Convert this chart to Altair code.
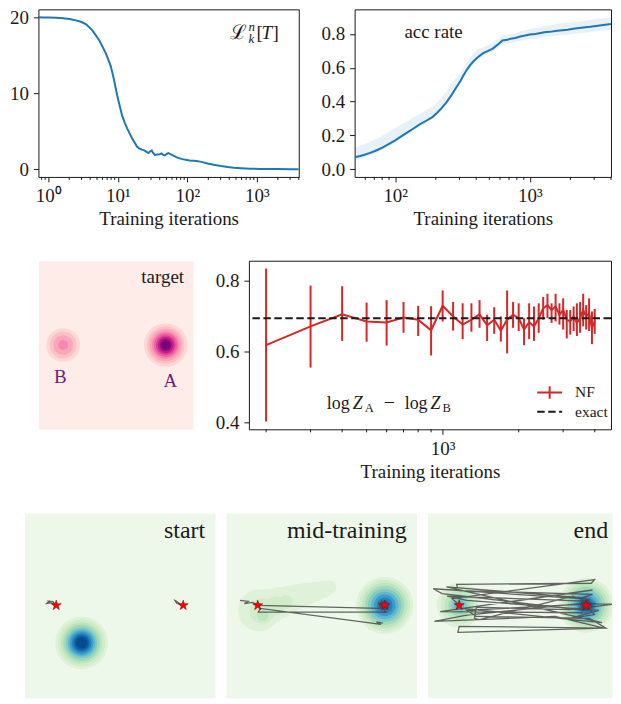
import altair as alt
import pandas as pd

SERIF = "Liberation Serif"
SCRIPT = "DejaVu Serif"
INK = "#1a1a1a"
RED = "#d62728"
BLUE = "#1f77b4"
TRAJ = "#4a4a4a"
PINK_BG = "#fdece8"
GREEN_BG = "#eef8ea"
LETTER = "#6b1f7d"
RDPU = ["#fcd7d3", "#fbc1c4", "#f9a6ba", "#f688b1", "#ee64a3", "#da3c95", "#bc1d88", "#99097e", "#770575"]
GNBU = ["#dff2d9", "#d0ecc9", "#bde5bf", "#a2d9b8", "#80cbc3", "#5eb6d0", "#3e9bc9", "#2480ba", "#0f64a7", "#084c90"]
STAR = "M0,-1L0.2245,-0.309L0.951,-0.309L0.363,0.118L0.588,0.809L0,0.382L-0.588,0.809L-0.363,0.118L-0.951,-0.309L-0.2245,-0.309Z"
NF_SYMBOL = "M-1,0L1,0M0,-0.5L0,0.5"
SUP = "'10' + ['⁰','¹','²','³','⁴'][round(log(datum.value) / LN10)]"

# ---------------- data: loss panel ----------------
loss_iter = [0.72, 0.85, 1.0, 1.3, 1.63, 2.0, 2.5, 3.0, 3.5, 4.3, 5.4, 6.7, 7.9, 8.8, 9.8,
             10.6, 11.5, 12.5, 13.6, 15.0, 16.0, 17.5, 18.8, 20.0, 22.0, 24.0, 26.0, 27.5, 29.0, 30.7,
             32.0, 34.0, 37.0, 40.0, 42.6, 45.0, 47.0, 50.0, 53.0, 56.0, 60.0, 66.0, 72.0, 82.0, 95.0,
             107.0, 125.0, 141.0, 165.0, 195.0, 240.0, 302.0, 380.0, 465.0, 600.0, 800.0, 1100.0, 1500.0,
             2000.0, 3000.0, 4000.0]
loss_val = [20.02, 20.01, 20.0, 19.96, 19.9, 19.8, 19.62, 19.4, 19.1, 18.3, 17.0, 15.3, 13.6, 11.8, 9.7,
            8.4, 7.1, 6.2, 5.4, 4.6, 4.1, 3.5, 3.0, 2.8, 2.6, 2.5, 2.3, 2.15, 2.35, 2.5,
            2.2, 1.9, 1.95, 2.0, 2.1, 1.9, 1.85, 2.0, 2.15, 2.05, 1.9, 1.72, 1.55, 1.38, 1.25,
            1.16, 1.12, 1.08, 0.95, 0.78, 0.6, 0.43, 0.3, 0.22, 0.15, 0.09, 0.05, 0.04,
            0.03, 0.02, 0.02]
loss_major = [1, 10, 100, 1000]
loss_minor = [0.8, 0.9, 2, 3, 4, 5, 6, 7, 8, 9, 20, 30, 40, 50, 60, 70, 80, 90,
              200, 300, 400, 500, 600, 700, 800, 900, 2000, 3000, 4000]
loss_yticks = [0, 10, 20]

# ---------------- data: acceptance rate panel ----------------
acc_iter = [50, 55, 60, 65, 70, 75, 81, 90, 100, 110, 120, 135, 150, 170, 190, 205, 220, 240, 260, 280,
            305, 320, 340, 360, 380, 410, 450, 490, 530, 580, 625, 680, 720, 780, 850, 920, 1000, 1100,
            1280, 1400, 1600, 1900, 2100, 2400, 2800, 3100, 3500, 4000]
acc_mean = [0.071, 0.079, 0.088, 0.097, 0.107, 0.117, 0.13, 0.15, 0.171, 0.193, 0.212, 0.238, 0.262, 0.287,
            0.31, 0.334, 0.36, 0.396, 0.435, 0.476, 0.522, 0.553, 0.588, 0.615, 0.637, 0.662, 0.686, 0.70,
            0.713, 0.738, 0.761, 0.765, 0.772, 0.776, 0.785, 0.79, 0.796, 0.799, 0.81, 0.812, 0.819, 0.825,
            0.83, 0.836, 0.842, 0.847, 0.852, 0.858]
acc_lo = [0.05, 0.06, 0.07, 0.08, 0.09, 0.10, 0.115, 0.135, 0.155, 0.178, 0.198, 0.225, 0.25, 0.275,
          0.298, 0.322, 0.345, 0.38, 0.42, 0.46, 0.505, 0.535, 0.57, 0.598, 0.62, 0.645, 0.668, 0.682,
          0.695, 0.718, 0.74, 0.742, 0.748, 0.752, 0.76, 0.765, 0.77, 0.772, 0.782, 0.784, 0.79, 0.795,
          0.80, 0.805, 0.81, 0.815, 0.82, 0.825]
acc_hi = [0.125, 0.14, 0.15, 0.165, 0.175, 0.185, 0.2, 0.222, 0.244, 0.265, 0.28, 0.305, 0.325, 0.35,
          0.372, 0.395, 0.425, 0.46, 0.5, 0.535, 0.565, 0.6, 0.63, 0.66, 0.685, 0.71, 0.72, 0.735,
          0.748, 0.77, 0.79, 0.795, 0.80, 0.805, 0.815, 0.82, 0.83, 0.835, 0.845, 0.85, 0.86, 0.865,
          0.87, 0.875, 0.882, 0.888, 0.893, 0.9]
acc_major = [100, 1000]
acc_minor = [60, 70, 80, 90, 200, 300, 400, 500, 600, 700, 800, 900, 2000, 3000, 4000]
acc_yticks = [0.0, 0.2, 0.4, 0.6, 0.8]

# ---------------- data: log Z difference panel ----------------
z_iter = [200, 300, 400, 500, 600, 700, 800, 900, 1000, 1100, 1200, 1300, 1400, 1500, 1600, 1700, 1800,
          1900, 2000, 2100, 2200, 2300, 2400, 2500, 2600, 2700, 2800, 2900, 3000, 3100, 3200, 3300, 3400,
          3500, 3600, 3700, 3800, 3900, 4000]
z_mean = [0.617, 0.670, 0.704, 0.684, 0.681, 0.695, 0.689, 0.659, 0.728, 0.698, 0.675, 0.689, 0.704, 0.673,
          0.689, 0.658, 0.689, 0.703, 0.693, 0.661, 0.682, 0.670, 0.693, 0.721, 0.730, 0.716, 0.726, 0.703,
          0.716, 0.689, 0.684, 0.698, 0.680, 0.693, 0.716, 0.698, 0.707, 0.666, 0.684]
z_lo = [0.402, 0.554, 0.629, 0.627, 0.616, 0.652, 0.643, 0.588, 0.684, 0.658, 0.634, 0.655, 0.666, 0.629,
        0.649, 0.627, 0.594, 0.666, 0.657, 0.617, 0.634, 0.629, 0.652, 0.689, 0.693, 0.680, 0.684, 0.675,
        0.661, 0.636, 0.647, 0.657, 0.643, 0.652, 0.670, 0.661, 0.657, 0.620, 0.649]
z_hi = [0.833, 0.785, 0.783, 0.737, 0.744, 0.739, 0.728, 0.727, 0.771, 0.739, 0.735, 0.735, 0.744, 0.703,
        0.724, 0.698, 0.771, 0.739, 0.735, 0.693, 0.735, 0.726, 0.735, 0.753, 0.762, 0.735, 0.762, 0.735,
        0.749, 0.716, 0.716, 0.726, 0.735, 0.739, 0.762, 0.730, 0.749, 0.712, 0.719]
z_exact = 0.693
z_major = [1000]
z_minor = [200, 300, 400, 500, 600, 700, 800, 900, 2000, 3000, 4000]
z_yticks = [0.4, 0.6, 0.8]

# ---------------- data: target density (contour levels as rings) ----------------
tgtA_center = (0.97, 0.0)
tgtA_radii = [0.423, 0.365, 0.317, 0.269, 0.231, 0.192, 0.154, 0.115, 0.077]
tgtA_levels = [1, 2, 3, 4, 5, 6, 7, 8, 9]
tgtB_center = (-1.02, 0.0)
tgtB_radii = [0.327, 0.26, 0.192, 0.096]
tgtB_levels = [1, 2, 3, 4]

# ---------------- data: flow densities and trajectories ----------------
modes_x = [-1.0, 1.0]
modes_y = [0.0, 0.0]

start_center = (-0.6, -0.61)
start_radii = [0.417, 0.371, 0.325, 0.286, 0.247, 0.216, 0.185, 0.155, 0.124, 0.093]
start_levels = [1, 2, 3, 4, 5, 6, 7, 8, 9, 10]
start_chain = [0, 0, 0, 0, 0, 0, 0, 0, 1, 1, 1, 1, 1, 1, 1]
start_x = [-1.0, -1.04, -1.13, -1.15, -1.09, -1.12, -1.05, -1.02, 1.0, 0.95, 0.9, 0.87, 0.89, 0.93, 0.97]
start_y = [0.0, 0.03, 0.05, 0.03, 0.04, 0.07, 0.06, 0.02, 0.0, 0.02, 0.03, 0.08, 0.07, 0.04, -0.01]

mid_right_center = (1.0, 0.0)
mid_right_radii = [0.448, 0.402, 0.355, 0.309, 0.263, 0.216, 0.170, 0.124, 0.077]
mid_right_levels = [1, 2, 3, 4, 5, 6, 7, 8, 9]
mid_left_x = [-0.98, -0.82, -0.66, -0.52, -0.38, -0.24, -0.1, 0.03, 0.13, -0.93, -0.72, -0.56, -0.92]
mid_left_y = [-0.08, -0.02, 0.04, 0.09, 0.14, 0.18, 0.22, 0.26, 0.29, -0.09, -0.01, 0.05, -0.16]
mid_left_r = [0.33, 0.28, 0.25, 0.22, 0.2, 0.18, 0.16, 0.14, 0.11, 0.2, 0.15, 0.11, 0.09]
mid_left_levels = [1, 1, 1, 1, 1, 1, 1, 1, 1, 2, 2, 2, 3]
mid_x = [-1.28, -1.15, -1.21, -1.08, -0.99, 0.91, 0.95, 0.99, 0.93, 0.90, 1.02, -0.99, -0.96, 0.94, 0.87, 0.97]
mid_y = [0.08, 0.065, 0.03, 0.05, 0.0, -0.05, 0.07, 0.02, -0.04, 0.05, -0.11, -0.11, -0.05, -0.31, -0.27, -0.29]

end_left_center = (-1.0, 0.0)
end_left_radii = [0.355, 0.294, 0.232, 0.17, 0.124, 0.077]
end_left_levels = [1, 2, 3, 4, 5, 6]
end_right_center = (1.0, 0.0)
end_right_radii = [0.433, 0.386, 0.34, 0.294, 0.247, 0.2, 0.155, 0.124, 0.093, 0.062]
end_right_levels = [1, 2, 3, 4, 5, 6, 7, 8, 9, 10]
end_x = [-1.0, -1.11, 1.13, 1.08, -1.04, -1.02, 1.10, 0.90, -1.41, -1.27, 0.97, 1.13, -0.88, -0.73, 1.05,
         1.31, -1.0, -1.02, 1.28, 0.51, -1.39, -0.88, 0.90, 1.44, 0.74, -0.73, -0.76, -0.68, 0.79, 1.0,
         -1.19, -0.88, 1.2, 0.74, 1.13, 1.02, 0.93, 1.05, 0.92, 1.08, 0.98,
         -1.2, 1.25, -0.95, 1.1, -1.3, 0.95]
end_y = [0.0, 0.11, 0.42, 0.36, 0.34, 0.24, 0.18, 0.11, 0.27, 0.19, -0.08, 0.03, -0.08, -0.18, -0.21,
         -0.37, -0.34, -0.44, -0.37, -0.18, -0.26, -0.16, 0.03, 0.02, -0.07, -0.03, -0.21, -0.23, 0.15, 0.07,
         0.15, 0.08, -0.08, -0.21, -0.15, -0.02, 0.05, 0.1, -0.06, -0.04, 0.12,
         0.3, -0.28, -0.05, 0.25, -0.1, -0.12]

# annotation anchors (data coordinates)
LOSS_ANCHOR = (404, 17.1)
ACC_ANCHOR = (117, 0.777)
LOGZ_ANCHOR = (348, 0.438)
TITLE_POS = (1.345, 1.205)

# ---------------- layout ----------------
FS = 19
W_A, W_B, H1 = 261, 257, 168
W_T, W_D, H2 = 155, 363, 169
W_P, W_P3, H3 = 191, 185, 185
GAP_TOP, GAP_BOT = 56, 11
LEAD_TOP, LEAD_BOT = 1, 31.5
PPU_T = W_T / 3.0
PPU_B = W_P / 3.0


def text_mark(x, y, s, xs, ys, xa, ya, **kw):
    props = dict(font=SERIF, fontSize=FS, color=INK, align="left", baseline="alphabetic")
    props.update(kw)
    df = pd.DataFrame({"x": [x], "y": [y], "t": [s]})
    return alt.Chart(df).mark_text(**props).encode(
        x=alt.X("x:Q", scale=xs, axis=xa),
        y=alt.Y("y:Q", scale=ys, axis=ya),
        text="t:N",
    )


def x_axis(vals):
    return alt.Axis(values=vals, labelExpr=SUP, title="Training iterations", tickSize=5,
                    labelPadding=5, titlePadding=4, domain=False, grid=False,
                    labelFlush=False, labelOverlap=False)


def y_axis(vals, fmt):
    return alt.Axis(values=vals, format=fmt, title=None, tickSize=5, labelPadding=5,
                    domain=False, grid=False, labelFlush=False, labelOverlap=False)


def minor_ticks(vals, xs, xa, h):
    return alt.Chart(pd.DataFrame({"x": vals})).mark_rule(color=INK, strokeWidth=1).encode(
        x=alt.X("x:Q", scale=xs, axis=xa), y=alt.value(h), y2=alt.value(h + 3))


def spacer(w, h):
    return alt.Chart(pd.DataFrame({"x": [0]})).mark_point(opacity=0, size=0).encode(
        x=alt.value(0), y=alt.value(0)
    ).properties(width=w, height=h, view=alt.ViewBackground(stroke="transparent"))


def ring_df(blobs):
    rows = []
    for (cx, cy), radii, levels in blobs:
        for r, l in zip(radii, levels):
            rows.append({"x": cx, "y": cy, "r": r, "lvl": l})
    return pd.DataFrame(rows)


# ---------------- panel A: loss ----------------
xsA = alt.Scale(type="log", domain=[0.72, 4000], nice=False)
ysA = alt.Scale(domain=[-1.0, 21.07], nice=False, zero=False)
xaA = x_axis(loss_major)
yaA = y_axis(loss_yticks, "d")
lineA = alt.Chart(pd.DataFrame({"x": loss_iter, "y": loss_val})).mark_line(
    color=BLUE, strokeWidth=2, clip=True).encode(
    x=alt.X("x:Q", scale=xsA, axis=xaA),
    y=alt.Y("y:Q", scale=ysA, axis=yaA))
ax, ay = LOSS_ANCHOR
annA = [
    text_mark(ax, ay, "ℒ", xsA, ysA, xaA, yaA, font=SCRIPT, fontSize=20),
    text_mark(ax, ay, "n", xsA, ysA, xaA, yaA, fontSize=13, fontStyle="italic", dx=19, dy=-9),
    text_mark(ax, ay, "k", xsA, ysA, xaA, yaA, fontSize=13, fontStyle="italic", dx=19, dy=4),
    text_mark(ax, ay, "[", xsA, ysA, xaA, yaA, dx=27),
    text_mark(ax, ay, "T", xsA, ysA, xaA, yaA, fontStyle="italic", dx=32),
    text_mark(ax, ay, "]", xsA, ysA, xaA, yaA, dx=43),
]
chartA = alt.layer(lineA, minor_ticks(loss_minor, xsA, xaA, H1), *annA).properties(width=W_A, height=H1)

# ---------------- panel B: acceptance rate ----------------
xsB = alt.Scale(type="log", domain=[50, 4000], nice=False)
ysB = alt.Scale(domain=[-0.045, 0.945], nice=False, zero=False)
xaB = x_axis(acc_major)
yaB = y_axis(acc_yticks, ".1f")
dfB = pd.DataFrame({"x": acc_iter, "y": acc_mean, "lo": acc_lo, "hi": acc_hi})
bandB = alt.Chart(dfB).mark_area(color=BLUE, opacity=0.1, clip=True).encode(
    x=alt.X("x:Q", scale=xsB, axis=xaB),
    y=alt.Y("lo:Q", scale=ysB, axis=yaB),
    y2="hi:Q")
lineB = alt.Chart(dfB).mark_line(color=BLUE, strokeWidth=2, clip=True).encode(
    x=alt.X("x:Q", scale=xsB, axis=xaB),
    y=alt.Y("y:Q", scale=ysB, axis=yaB))
bx, by = ACC_ANCHOR
chartB = alt.layer(bandB, lineB, minor_ticks(acc_minor, xsB, xaB, H1),
                   text_mark(bx, by, "acc rate", xsB, ysB, xaB, yaB)).properties(width=W_B, height=H1)

# ---------------- target panel ----------------
xsT = alt.Scale(domain=[-1.5, 1.5], nice=False, zero=False)
ysT = alt.Scale(domain=[-1.5, 1.5], nice=False, zero=False)
ringsT = ring_df([(tgtA_center, tgtA_radii, tgtA_levels), (tgtB_center, tgtB_radii, tgtB_levels)])
circT = alt.Chart(ringsT).mark_circle(opacity=1).encode(
    x=alt.X("x:Q", scale=xsT, axis=None),
    y=alt.Y("y:Q", scale=ysT, axis=None),
    size=alt.Size("r:Q", scale=alt.Scale(type="pow", exponent=2, domain=[0, 1],
                                         range=[0, 4 * PPU_T ** 2]), legend=None),
    color=alt.Color("lvl:O", scale=alt.Scale(domain=list(range(1, 10)), range=RDPU), legend=None),
    order=alt.Order("lvl:Q"))
chartT = alt.layer(
    circT,
    text_mark(1.327, 1.218, "target", xsT, ysT, None, None, align="right", baseline="middle"),
    text_mark(-1.077, -0.563, "B", xsT, ysT, None, None, align="center", baseline="middle", color=LETTER),
    text_mark(1.06, -0.634, "A", xsT, ysT, None, None, align="center", baseline="middle", color=LETTER),
).properties(width=W_T, height=H2, view=alt.ViewBackground(fill=PINK_BG, stroke="transparent"))

# ---------------- panel D: log Z difference ----------------
xsD = alt.Scale(type="log", domain=[171, 4640], nice=False)
ysD = alt.Scale(domain=[0.38, 0.855], nice=False, zero=False)
xaD = x_axis(z_major)
yaD = y_axis(z_yticks, ".1f")
dfD = pd.DataFrame({"x": z_iter, "y": z_mean, "lo": z_lo, "hi": z_hi, "nf": ["NF"] * len(z_iter)})
errD = alt.Chart(dfD).mark_rule(color=RED, strokeWidth=2).encode(
    x=alt.X("x:Q", scale=xsD, axis=xaD),
    y=alt.Y("lo:Q", scale=ysD, axis=yaD),
    y2="hi:Q")
lineD = alt.Chart(dfD).mark_line(strokeWidth=2).encode(
    x=alt.X("x:Q", scale=xsD, axis=xaD),
    y=alt.Y("y:Q", scale=ysD, axis=yaD),
    color=alt.Color("nf:N", scale=alt.Scale(domain=["NF"], range=[RED]),
                    legend=alt.Legend(title=None, orient="none", legendX=288, legendY=118.5,
                                      symbolType=NF_SYMBOL, symbolSize=625, symbolStrokeWidth=2,
                                      symbolFillColor="transparent", labelFont=SERIF,
                                      labelFontSize=15.5, labelColor=INK, labelOffset=12, padding=0)))
exactD = alt.Chart(pd.DataFrame({"y": [z_exact], "ex": ["exact"]})).mark_rule(
    color=INK, strokeWidth=2).encode(
    y=alt.Y("y:Q", scale=ysD, axis=yaD),
    strokeDash=alt.StrokeDash("ex:N", scale=alt.Scale(domain=["exact"], range=[[7.5, 3.5]]),
                              legend=alt.Legend(title=None, orient="none", legendX=288, legendY=138,
                                                symbolType="stroke", symbolSize=625, symbolStrokeWidth=2,
                                                symbolStrokeColor=INK, labelFont=SERIF,
                                                labelFontSize=15.5, labelColor=INK, labelOffset=12,
                                                padding=0)))
lx, ly = LOGZ_ANCHOR
annD = [
    text_mark(lx, ly, "log", xsD, ysD, xaD, yaD, fontSize=18),
    text_mark(lx, ly, "Z", xsD, ysD, xaD, yaD, dx=26, fontSize=18, fontStyle="italic"),
    text_mark(lx, ly, "A", xsD, ysD, xaD, yaD, dx=38, dy=3, fontSize=12.5),
    text_mark(lx, ly, "−", xsD, ysD, xaD, yaD, dx=57, fontSize=20),
    text_mark(lx, ly, "log", xsD, ysD, xaD, yaD, dx=78, fontSize=18),
    text_mark(lx, ly, "Z", xsD, ysD, xaD, yaD, dx=104, fontSize=18, fontStyle="italic"),
    text_mark(lx, ly, "B", xsD, ysD, xaD, yaD, dx=116, dy=3, fontSize=12.5),
]
chartD = alt.layer(errD, lineD, exactD, minor_ticks(z_minor, xsD, xaD, H2), *annD).properties(
    width=W_D, height=H2)


# ---------------- bottom panels ----------------
def bottom_panel(rings, traj, title, width):
    xmax = -1.5 + width / PPU_B
    xs = alt.Scale(domain=[-1.5, xmax], nice=False, zero=False)
    ys = alt.Scale(domain=[-1.5, 1.5], nice=False, zero=False)
    circ = alt.Chart(rings).mark_circle(opacity=1, clip=True).encode(
        x=alt.X("x:Q", scale=xs, axis=None),
        y=alt.Y("y:Q", scale=ys, axis=None),
        size=alt.Size("r:Q", scale=alt.Scale(type="pow", exponent=2, domain=[0, 1],
                                             range=[0, 4 * PPU_B ** 2]), legend=None),
        color=alt.Color("lvl:O", scale=alt.Scale(domain=list(range(1, 11)), range=GNBU), legend=None),
        order=alt.Order("lvl:Q"))
    path = alt.Chart(traj).mark_line(color=TRAJ, strokeWidth=1.3, opacity=0.85, clip=True).encode(
        x=alt.X("x:Q", scale=xs, axis=None),
        y=alt.Y("y:Q", scale=ys, axis=None),
        order=alt.Order("i:Q"),
        detail="c:N")
    stars = alt.Chart(pd.DataFrame({"x": modes_x, "y": modes_y})).mark_point(
        shape=STAR, filled=True, fill="#ff0000", stroke="#a00000", strokeWidth=0.6,
        size=110, opacity=1).encode(
        x=alt.X("x:Q", scale=xs, axis=None),
        y=alt.Y("y:Q", scale=ys, axis=None))
    ttl = text_mark(TITLE_POS[0], TITLE_POS[1], title, xs, ys, None, None, fontSize=24, align="right",
                    baseline="middle")
    return alt.layer(circ, path, stars, ttl).properties(
        width=width, height=H3, view=alt.ViewBackground(fill=GREEN_BG, stroke="transparent"))


def traj_df(xs_, ys_, chains=None):
    if chains is None:
        chains = [0] * len(xs_)
    return pd.DataFrame({"x": xs_, "y": ys_, "c": chains, "i": list(range(len(xs_)))})


mid_rings = pd.concat([
    ring_df([(mid_right_center, mid_right_radii, mid_right_levels)]),
    pd.DataFrame({"x": mid_left_x, "y": mid_left_y, "r": mid_left_r, "lvl": mid_left_levels}),
], ignore_index=True)

p1 = bottom_panel(ring_df([(start_center, start_radii, start_levels)]),
                  traj_df(start_x, start_y, start_chain), "start", W_P)
p2 = bottom_panel(mid_rings, traj_df(mid_x, mid_y), "mid-training", W_P)
p3 = bottom_panel(ring_df([(end_left_center, end_left_radii, end_left_levels),
                           (end_right_center, end_right_radii, end_right_levels)]),
                  traj_df(end_x, end_y), "end", W_P3)

IND = dict(color="independent", size="independent", strokeDash="independent")
row1 = alt.hconcat(spacer(LEAD_TOP, H1), chartA, chartB, spacing=GAP_TOP, bounds="flush").resolve_scale(**IND)
row2 = alt.hconcat(spacer(LEAD_TOP, H2), chartT, chartD, spacing=GAP_TOP, bounds="flush").resolve_scale(**IND)
row3 = alt.hconcat(spacer(LEAD_BOT, H3), p1, p2, p3, spacing=GAP_BOT, bounds="flush").resolve_scale(**IND)

chart = alt.vconcat(row1, row2, row3, spacing=30).resolve_scale(**IND).properties(
    padding={"left": -27.5, "top": -1.5, "right": 0, "bottom": 0}
).configure(font=SERIF).configure_view(stroke=INK, strokeWidth=1).configure_axis(
    labelFont=SERIF, titleFont=SERIF, labelFontSize=FS, titleFontSize=FS, titleFontWeight="normal",
    labelColor=INK, titleColor=INK, tickColor=INK, tickWidth=1)

chart.save("out.html", embed_options={"renderer": "svg", "actions": False})
